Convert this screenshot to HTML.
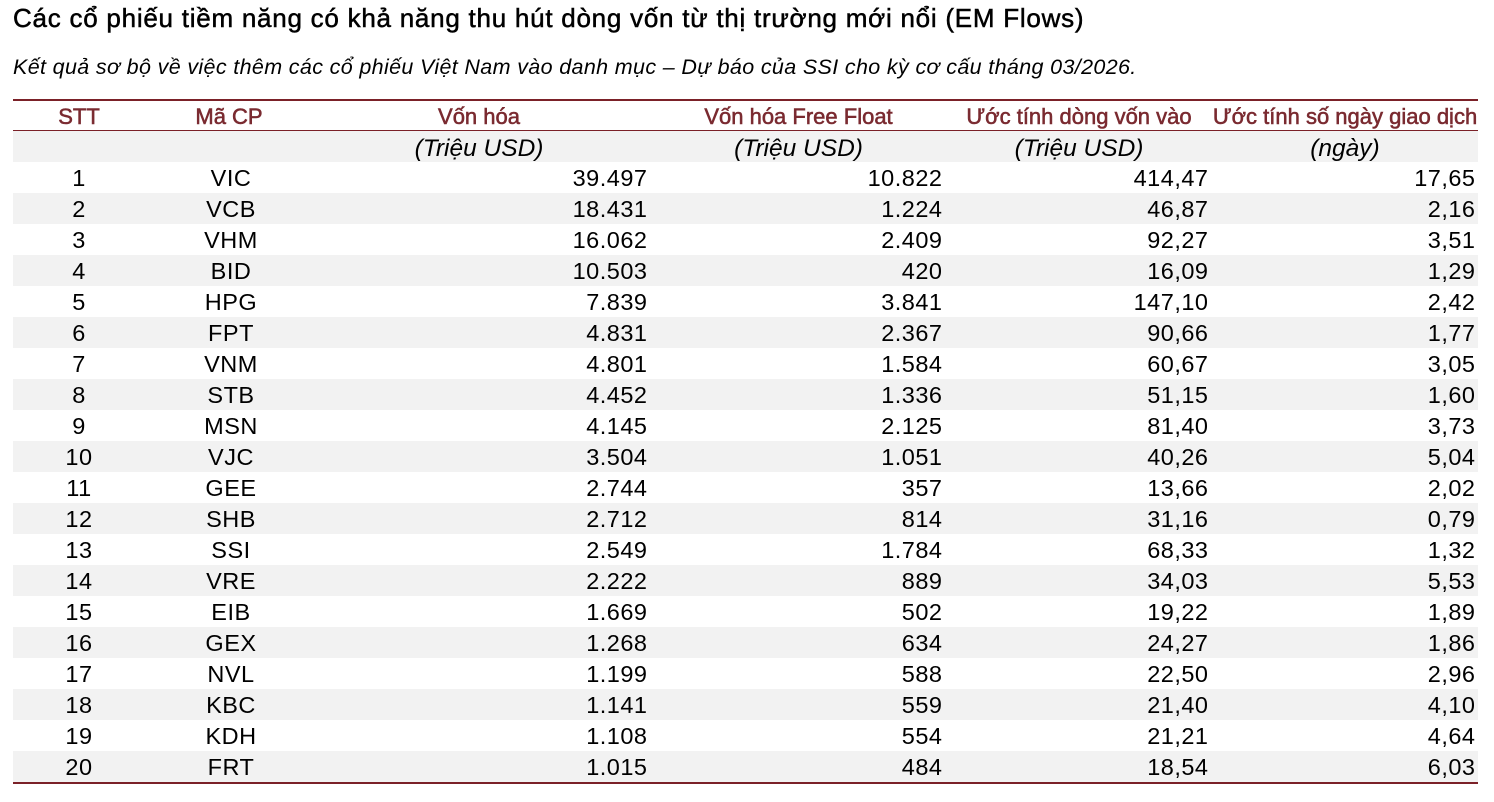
<!DOCTYPE html>
<html>
<head>
<meta charset="utf-8">
<style>
  html, body { margin: 0; padding: 0; background: #fff; }
  body { width: 1494px; height: 802px; position: relative; overflow: hidden;
         font-family: "Liberation Sans", "DejaVu Sans", sans-serif; color: #000; }
  .title { position: absolute; left: 13px; top: 3px; font-size: 26px; line-height: 30px; letter-spacing: 0.75px;
           white-space: nowrap; -webkit-text-stroke: 0.5px #000; }
  .sub { position: absolute; left: 13px; top: 54px; font-size: 21.5px; line-height: 26px; letter-spacing: 0.35px;
         font-style: italic; white-space: nowrap; }
  .hl { position: absolute; left: 13px; width: 1465px; background: #7b2128; }
  .row { position: absolute; left: 13px; width: 1465px; height: 31px; }
  .gray { background: #f2f2f2; }
  .c { position: absolute; top: 0; height: 31px; line-height: 32px; white-space: nowrap; font-size: 23.5px; letter-spacing: 0.5px; }
  .c1 { left: 0; width: 132px; text-align: center; }
  .c2 { left: 132px; width: 172px; text-align: center; }
  .c3 { left: 294px; width: 340.5px; text-align: right; }
  .c4 { left: 638px; width: 291.5px; text-align: right; }
  .c5 { left: 933px; width: 262.5px; text-align: right; }
  .c6 { left: 1199px; width: 263.5px; text-align: right; }
  .hdr .c { color: #7a2a30; font-size: 22px; letter-spacing: 0; -webkit-text-stroke: 0.55px #7a2a30; text-align: center; top: 2px; }
  .hdr .c2 { left: 132px; width: 168px; }
  .hdr .c3 { left: 294px; width: 344px; }
  .hdr .c4 { left: 638px; width: 295px; }
  .hdr .c5 { left: 933px; width: 266px; }
  .hdr .c6 { left: 1199px; width: 266px; }
  .sh .c { font-style: italic; font-size: 24.5px; letter-spacing: 0; text-align: center; top: 2px; }
  .sh .c3 { left: 294px; width: 344px; }
  .sh .c4 { left: 638px; width: 295px; }
  .sh .c5 { left: 933px; width: 266px; }
  .sh .c6 { left: 1199px; width: 266px; }
</style>
</head>
<body>
<div class="title">Các cổ phiếu tiềm năng có khả năng thu hút dòng vốn từ thị trường mới nổi (EM Flows)</div>
<div class="sub">Kết quả sơ bộ về việc thêm các cổ phiếu Việt Nam vào danh mục – Dự báo của SSI cho kỳ cơ cấu tháng 03/2026.</div>

<div class="hl" style="top:99px;height:1.5px;"></div>
<div class="row hdr" style="top:100px;height:30px;">
  <div class="c c1" style="height:30px;line-height:30px;">STT</div>
  <div class="c c2" style="height:30px;line-height:30px;">Mã CP</div>
  <div class="c c3" style="height:30px;line-height:30px;">Vốn hóa</div>
  <div class="c c4" style="height:30px;line-height:30px;">Vốn hóa Free Float</div>
  <div class="c c5" style="height:30px;line-height:30px;">Ước tính dòng vốn vào</div>
  <div class="c c6" style="height:30px;line-height:30px;">Ước tính số ngày giao dịch</div>
</div>
<div class="hl" style="top:130px;height:1.2px;"></div>
<div class="row gray sh" style="top:131px;">
  <div class="c c3">(Triệu USD)</div>
  <div class="c c4">(Triệu USD)</div>
  <div class="c c5">(Triệu USD)</div>
  <div class="c c6">(ngày)</div>
</div>

<div class="row" style="top:162px;"><div class="c c1">1</div><div class="c c2">VIC</div><div class="c c3">39.497</div><div class="c c4">10.822</div><div class="c c5">414,47</div><div class="c c6">17,65</div></div>
<div class="row gray" style="top:193px;"><div class="c c1">2</div><div class="c c2">VCB</div><div class="c c3">18.431</div><div class="c c4">1.224</div><div class="c c5">46,87</div><div class="c c6">2,16</div></div>
<div class="row" style="top:224px;"><div class="c c1">3</div><div class="c c2">VHM</div><div class="c c3">16.062</div><div class="c c4">2.409</div><div class="c c5">92,27</div><div class="c c6">3,51</div></div>
<div class="row gray" style="top:255px;"><div class="c c1">4</div><div class="c c2">BID</div><div class="c c3">10.503</div><div class="c c4">420</div><div class="c c5">16,09</div><div class="c c6">1,29</div></div>
<div class="row" style="top:286px;"><div class="c c1">5</div><div class="c c2">HPG</div><div class="c c3">7.839</div><div class="c c4">3.841</div><div class="c c5">147,10</div><div class="c c6">2,42</div></div>
<div class="row gray" style="top:317px;"><div class="c c1">6</div><div class="c c2">FPT</div><div class="c c3">4.831</div><div class="c c4">2.367</div><div class="c c5">90,66</div><div class="c c6">1,77</div></div>
<div class="row" style="top:348px;"><div class="c c1">7</div><div class="c c2">VNM</div><div class="c c3">4.801</div><div class="c c4">1.584</div><div class="c c5">60,67</div><div class="c c6">3,05</div></div>
<div class="row gray" style="top:379px;"><div class="c c1">8</div><div class="c c2">STB</div><div class="c c3">4.452</div><div class="c c4">1.336</div><div class="c c5">51,15</div><div class="c c6">1,60</div></div>
<div class="row" style="top:410px;"><div class="c c1">9</div><div class="c c2">MSN</div><div class="c c3">4.145</div><div class="c c4">2.125</div><div class="c c5">81,40</div><div class="c c6">3,73</div></div>
<div class="row gray" style="top:441px;"><div class="c c1">10</div><div class="c c2">VJC</div><div class="c c3">3.504</div><div class="c c4">1.051</div><div class="c c5">40,26</div><div class="c c6">5,04</div></div>
<div class="row" style="top:472px;"><div class="c c1">11</div><div class="c c2">GEE</div><div class="c c3">2.744</div><div class="c c4">357</div><div class="c c5">13,66</div><div class="c c6">2,02</div></div>
<div class="row gray" style="top:503px;"><div class="c c1">12</div><div class="c c2">SHB</div><div class="c c3">2.712</div><div class="c c4">814</div><div class="c c5">31,16</div><div class="c c6">0,79</div></div>
<div class="row" style="top:534px;"><div class="c c1">13</div><div class="c c2">SSI</div><div class="c c3">2.549</div><div class="c c4">1.784</div><div class="c c5">68,33</div><div class="c c6">1,32</div></div>
<div class="row gray" style="top:565px;"><div class="c c1">14</div><div class="c c2">VRE</div><div class="c c3">2.222</div><div class="c c4">889</div><div class="c c5">34,03</div><div class="c c6">5,53</div></div>
<div class="row" style="top:596px;"><div class="c c1">15</div><div class="c c2">EIB</div><div class="c c3">1.669</div><div class="c c4">502</div><div class="c c5">19,22</div><div class="c c6">1,89</div></div>
<div class="row gray" style="top:627px;"><div class="c c1">16</div><div class="c c2">GEX</div><div class="c c3">1.268</div><div class="c c4">634</div><div class="c c5">24,27</div><div class="c c6">1,86</div></div>
<div class="row" style="top:658px;"><div class="c c1">17</div><div class="c c2">NVL</div><div class="c c3">1.199</div><div class="c c4">588</div><div class="c c5">22,50</div><div class="c c6">2,96</div></div>
<div class="row gray" style="top:689px;"><div class="c c1">18</div><div class="c c2">KBC</div><div class="c c3">1.141</div><div class="c c4">559</div><div class="c c5">21,40</div><div class="c c6">4,10</div></div>
<div class="row" style="top:720px;"><div class="c c1">19</div><div class="c c2">KDH</div><div class="c c3">1.108</div><div class="c c4">554</div><div class="c c5">21,21</div><div class="c c6">4,64</div></div>
<div class="row gray" style="top:751px;"><div class="c c1">20</div><div class="c c2">FRT</div><div class="c c3">1.015</div><div class="c c4">484</div><div class="c c5">18,54</div><div class="c c6">6,03</div></div>
<div class="hl" style="top:782px;height:1.5px;"></div>
</body>
</html>
